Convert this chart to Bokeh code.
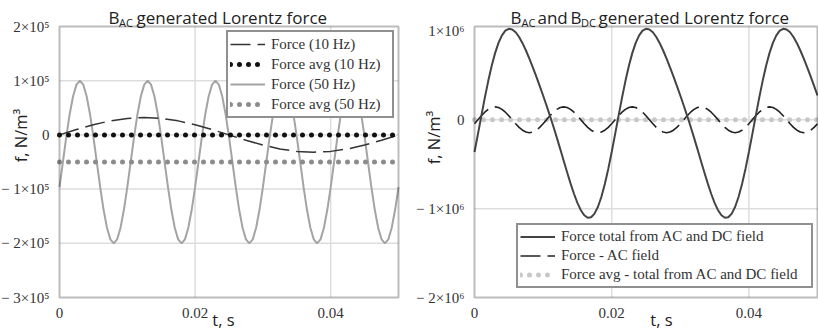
from bokeh.plotting import figure
from bokeh.models import Range1d, FixedTicker, Label, Legend, LegendItem, BoxAnnotation
from bokeh.layouts import row
from bokeh.embed import file_html
from bokeh.resources import INLINE
import math

# ---- sampled curves (N/m^3) ----
# left panel: B_AC only
step_10hz = 0.0025
force_10hz = [0, 9900, 18800, 25900, 30400, 32000, 30400, 25900, 18800, 9900,
              0, -9900, -18800, -25900, -30400, -32000, -30400, -25900, -18800, -9900, 0]
avg_10hz = [0, 0]

step_fine = 0.0005
force_50hz = [
    -96400, -50000, -3700, 38200, 71400, 92700, 100000, 92700, 71400, 38200,
    -3700, -50000, -96400, -138200, -171400, -192700, -200000, -192700, -171400, -138200,
    -96400, -50000, -3700, 38200, 71400, 92700, 100000, 92700, 71400, 38200,
    -3700, -50000, -96400, -138200, -171400, -192700, -200000, -192700, -171400, -138200,
    -96400, -50000, -3700, 38200, 71400, 92700, 100000, 92700, 71400, 38200,
    -3700, -50000, -96400, -138200, -171400, -192700, -200000, -192700, -171400, -138200,
    -96400, -50000, -3700, 38200, 71400, 92700, 100000, 92700, 71400, 38200,
    -3700, -50000, -96400, -138200, -171400, -192700, -200000, -192700, -171400, -138200,
    -96400, -50000, -3700, 38200, 71400, 92700, 100000, 92700, 71400, 38200,
    -3700, -50000, -96400, -138200, -171400, -192700, -200000, -192700, -171400, -138200,
    -96400]
avg_50hz = [-50000, -50000]

# right panel: B_AC and B_DC
force_total = [
    -363100, -161100, 44800, 246300, 435600, 605500, 750400, 866200, 950600, 1002900,
    1024400, 1017300, 985200, 932100, 862300, 779800, 688300, 590400, 488100, 382400,
    273500, 161100, 44800, -75900, -201000, -329700, -460400, -590400, -716000, -832500,
    -934800, -1017300, -1074800, -1102500, -1096900, -1055600, -978300, -866200, -722700, -552800,
    -363100, -161100, 44800, 246300, 435600, 605500, 750400, 866200, 950600, 1002900,
    1024400, 1017300, 985200, 932100, 862300, 779800, 688300, 590400, 488100, 382400,
    273500, 161100, 44800, -75900, -201000, -329700, -460400, -590400, -716000, -832500,
    -934800, -1017300, -1074800, -1102500, -1096900, -1055600, -978300, -866200, -722700, -552800,
    -363100, -161100, 44800, 246300, 435600, 605500, 750400, 866200, 950600, 1002900,
    1024400, 1017300, 985200, 932100, 862300, 779800, 688300, 590400, 488100, 382400,
    273500]
force_ac = [
    -44800, 0, 44800, 85200, 117300, 137900, 145000, 137900, 117300, 85200,
    44800, 0, -44800, -85200, -117300, -137900, -145000, -137900, -117300, -85200,
    -44800, 0, 44800, 85200, 117300, 137900, 145000, 137900, 117300, 85200,
    44800, 0, -44800, -85200, -117300, -137900, -145000, -137900, -117300, -85200,
    -44800, 0, 44800, 85200, 117300, 137900, 145000, 137900, 117300, 85200,
    44800, 0, -44800, -85200, -117300, -137900, -145000, -137900, -117300, -85200,
    -44800, 0, 44800, 85200, 117300, 137900, 145000, 137900, 117300, 85200,
    44800, 0, -44800, -85200, -117300, -137900, -145000, -137900, -117300, -85200,
    -44800, 0, 44800, 85200, 117300, 137900, 145000, 137900, 117300, 85200,
    44800, 0, -44800, -85200, -117300, -137900, -145000, -137900, -117300, -85200,
    -44800]
avg_total = [0, 0]

t_start, t_end = 0, 0.05
t_ends = [t_start, t_end]
t_10hz = [i * step_10hz for i in range(len(force_10hz))]
t_fine = [i * step_fine for i in range(len(force_50hz))]

x_ticks = [0, 0.02, 0.04]
x_grid = [0.02, 0.04]
left_y_ticks = [-300000, -200000, -100000, 0, 100000, 200000]
left_y_labels = ["\u2212 3\u00d710\u2075", "\u2212 2\u00d710\u2075", "\u2212 1\u00d710\u2075", "0",
                 "1\u00d710\u2075", "2\u00d710\u2075"]
left_y_grid = [-200000, -100000, 0, 100000]
right_y_ticks = [-2000000, -1000000, 0, 1000000]
right_y_labels = ["\u2212 2\u00d710\u2076", "\u2212 1\u00d710\u2076", "0", "1\u00d710\u2076"]
right_y_grid = [-1000000, 0]

SANS = "Open Sans"
SERIF = "Liberation Serif"
INK = "#222222"
FIG_W, FIG_H = 409, 331
BOX_TOP, BOX_BOTTOM = 26, 297  # pixel rows of the plot box
TITLE_SIZE, SUB_SIZE, LABEL_SIZE = "17px", "11px", "16.5px"


def make_panel(y_lo, y_hi, box_left, box_right, y_ticks, y_labels, y_grid):
    """Figure whose frame fills the canvas; the plot box sits inside it."""
    sx = (box_right - box_left) / (t_end - t_start)
    sy = (BOX_BOTTOM - BOX_TOP) / (y_hi - y_lo)
    x_range = Range1d(t_start - box_left / sx, t_end + (FIG_W - box_right) / sx)
    y_range = Range1d(y_lo - (FIG_H - BOX_BOTTOM) / sy, y_hi + BOX_TOP / sy)
    p = figure(width=FIG_W, height=FIG_H, output_backend="svg", toolbar_location=None,
               x_range=x_range, y_range=y_range,
               min_border_left=0, min_border_right=0, min_border_top=0, min_border_bottom=0)
    p.title.visible = False
    p.outline_line_color = None
    p.grid.visible = False
    p.background_fill_color = "white"
    p.border_fill_color = "white"

    # grid lines inside the box
    p.segment(x0=x_grid, y0=[y_lo] * len(x_grid), x1=x_grid, y1=[y_hi] * len(x_grid),
              line_color="#dddddd", line_width=1.5)
    p.segment(x0=[t_start] * len(y_grid), y0=y_grid, x1=[t_end] * len(y_grid), y1=y_grid,
              line_color="#dddddd", line_width=1.5)

    for ax in (p.xaxis[0], p.yaxis[0]):
        ax.axis_line_color = None
        ax.major_tick_line_color = None
        ax.minor_tick_line_color = None
        ax.major_label_text_font = SERIF
        ax.major_label_text_font_size = "15px"
        ax.major_label_text_color = "#333333"
    p.xaxis.fixed_location = y_lo
    p.yaxis.fixed_location = t_start
    p.xaxis.ticker = FixedTicker(ticks=x_ticks)
    p.xaxis.major_label_standoff = 4
    p.yaxis.ticker = FixedTicker(ticks=y_ticks)
    p.yaxis.major_label_overrides = dict(zip(y_ticks, y_labels))
    p.yaxis.major_label_standoff = 4

    p.add_layout(BoxAnnotation(left=t_start, right=t_end, bottom=y_lo, top=y_hi,
                               fill_alpha=0, line_color=INK, line_width=2, level="overlay"))
    return p


def add_text(p, x, y, text, size, font=SANS, angle=0.0, align="left", baseline="alphabetic"):
    # x, y: pixels from the canvas' bottom-left corner
    p.add_layout(Label(x=x, y=y, x_units="screen", y_units="screen", text=text,
                       text_font=font, text_font_size=size, text_color=INK,
                       angle=angle, text_align=align, text_baseline=baseline))


# ---------- left panel ----------
left = make_panel(-300000, 200000, 59, 398, left_y_ticks, left_y_labels, left_y_grid)

r50 = left.line(t_fine, force_50hz, line_color="#a4a4a4", line_width=2)
r10 = left.line(t_10hz, force_10hz, line_color="#333333", line_width=1.5, line_dash="20 7")
ra10 = left.line(t_ends, avg_10hz, line_color="#111111", line_width=5,
                 line_dash="0 9", line_cap="round")
ra50 = left.line(t_ends, avg_50hz, line_color="#8c8c8c", line_width=5,
                 line_dash="0 9", line_cap="round")

leg_l = Legend(items=[LegendItem(label="Force (10 Hz)", renderers=[r10]),
                      LegendItem(label="Force avg (10 Hz)", renderers=[ra10]),
                      LegendItem(label="Force (50 Hz)", renderers=[r50]),
                      LegendItem(label="Force avg (50 Hz)", renderers=[ra50])],
               location=(226, 213))
left.add_layout(leg_l)

# title: B_AC generated Lorentz force
add_text(left, 108, 314, "B", TITLE_SIZE)
add_text(left, 118.5, 309, "AC", SUB_SIZE)
add_text(left, 136, 314, "generated Lorentz force", TITLE_SIZE)
add_text(left, 223, 12, "t, s", LABEL_SIZE, align="center")
add_text(left, 20, 196, "f, N/m\u00b3", LABEL_SIZE, angle=math.pi / 2,
         align="center", baseline="middle")

# ---------- right panel ----------
right = make_panel(-2000000, 1050000, 65, 408, right_y_ticks, right_y_labels, right_y_grid)

rav = right.line(t_ends, avg_total, line_color="#c8c8c8", line_width=5,
                 line_dash="0 9", line_cap="round")
rac = right.line(t_fine, force_ac, line_color="#222222", line_width=1.6, line_dash="20 7")
rtot = right.line(t_fine, force_total, line_color="#444444", line_width=2)

leg_r = Legend(items=[LegendItem(label="Force total from AC and DC field", renderers=[rtot]),
                      LegendItem(label="Force - AC field", renderers=[rac]),
                      LegendItem(label="Force avg - total from AC and DC field", renderers=[rav])],
               location=(107, 43))
right.add_layout(leg_r)

# title: B_AC and B_DC generated Lorentz force
add_text(right, 101, 314, "B", TITLE_SIZE)
add_text(right, 112, 309, "AC", SUB_SIZE)
add_text(right, 128, 314, "and", TITLE_SIZE)
add_text(right, 161, 314, "B", TITLE_SIZE)
add_text(right, 171.5, 309, "DC", SUB_SIZE)
add_text(right, 189, 314, "generated Lorentz force", TITLE_SIZE)
add_text(right, 252, 12, "t, s", LABEL_SIZE, align="center")
add_text(right, 24, 194, "f, N/m\u00b3", LABEL_SIZE, angle=math.pi / 2,
         align="center", baseline="middle")

for leg, lw in ((leg_l, 119), (leg_r, 248)):
    leg.label_text_font = SERIF
    leg.label_text_font_size = "15px"
    leg.label_text_color = "#333333"
    leg.border_line_color = INK
    leg.border_line_width = 2
    leg.background_fill_color = "white"
    leg.background_fill_alpha = 1.0
    leg.padding = 2
    leg.spacing = 0
    leg.margin = 0
    leg.glyph_width = 35
    leg.label_standoff = 6
    leg.label_width = lw

leg_l.label_height = 20
leg_l.glyph_height = 20
leg_r.label_height = 19
leg_r.glyph_height = 19

layout = row(left, right)
open("out.html", "w").write(file_html(layout, INLINE))
